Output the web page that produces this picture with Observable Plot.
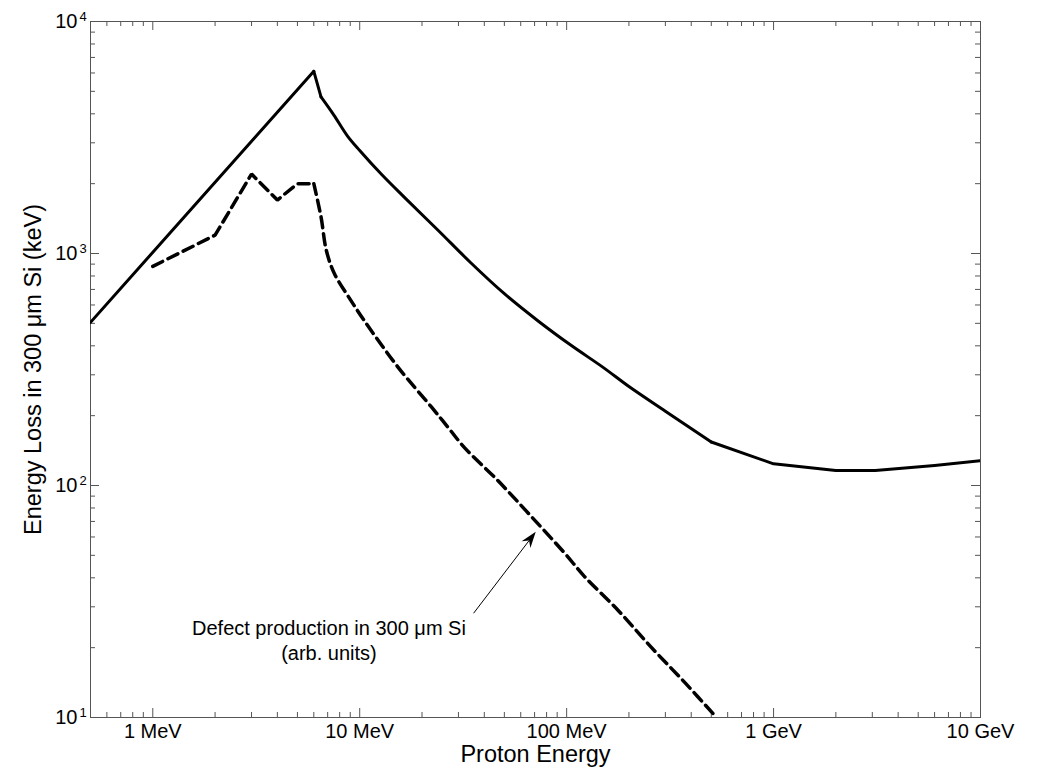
<!DOCTYPE html>
<html>
<head>
<meta charset="utf-8">
<script src="https://cdn.jsdelivr.net/npm/d3@7"></script>
<script src="https://cdn.jsdelivr.net/npm/@observablehq/plot@0.6"></script>
<style>
  html, body { margin: 0; padding: 0; background: #fff; }
  #chart svg { display: block; }
</style>
</head>
<body>
<div id="chart"></div>
<script>
// ---- Data ----
// Energy loss in 300 µm Si (keV) vs proton energy (MeV)
const solidEnergy = [0.5, 6.0, 6.5, 7.5, 8.75, 10, 12.7, 16.4, 23.9, 34.5, 50, 72.8, 105, 150, 200, 300, 500, 1000, 2000, 3100, 6000, 10000];
const solidLoss   = [505, 6100, 4730, 3950, 3200, 2780, 2200, 1750, 1260, 910, 671, 512, 402, 323, 267, 209, 154, 124, 116, 116, 122, 128];

// Defect production in 300 µm Si (arb. units)
const defectEnergy = [1.0, 2.0, 3.0, 4.0, 5.0, 6.0, 6.5, 6.9, 7.55, 9.06, 10.5, 15.3, 22.2, 26.6, 32, 46.5, 67.5, 98, 122, 177, 256, 371, 530];
const defectLoss   = [880, 1200, 2200, 1700, 2000, 2000, 1440, 1030, 818, 628, 515, 324, 218, 179, 146, 105, 73.5, 51, 40.5, 29, 20.1, 14.2, 10];

const xDomain = [0.5, 10000];
const yDomain = [10, 10000];
const xTickValues = [1, 10, 100, 1000, 10000];
const xTickLabels = ["1 MeV", "10 MeV", "100 MeV", "1 GeV", "10 GeV"];
const yTickValues = [10, 100, 1000, 10000];
const yTickBase = "10";
const yTickExponents = ["1", "2", "3", "4"];

const xTitle = "Proton Energy";
const yTitle = "Energy Loss in 300 μm Si (keV)";
const annotationText = "Defect production in 300 μm Si\n(arb. units)";
const annotationAt = [7.1, 21.6];
const arrowFrom = [35.7, 28];
const arrowTo = [71.3, 62.8];

// ---- Layout ----
const W = 1043, H = 782;
const mL = 90, mR = 63, mT = 21, mB = 65;
const pw = W - mL - mR, ph = H - mT - mB;
const axisColor = "#555";
const font = "'Liberation Sans', Arial, Helvetica, sans-serif";

const solid = solidEnergy.map((e, i) => ({e, v: solidLoss[i]}));
const defect = defectEnergy.map((e, i) => ({e, v: defectLoss[i]}));
const within = (data, lo, hi) => data.filter(d => d.e >= lo && d.e <= hi);

const xMinor = d3.scaleLog().domain(xDomain).ticks().filter(t => !xTickValues.includes(t));
const yMinor = d3.scaleLog().domain(yDomain).ticks().filter(t => !yTickValues.includes(t));

function arrowMark(index, scales) {
  const x1 = scales.x(arrowFrom[0]), y1 = scales.y(arrowFrom[1]);
  const x2 = scales.x(arrowTo[0]), y2 = scales.y(arrowTo[1]);
  const a = Math.atan2(y2 - y1, x2 - x1);
  const ux = Math.cos(a), uy = Math.sin(a), px = -uy, py = ux;
  const L = 16, w = 5.5, n = 11;
  const g = d3.create("svg:g");
  g.append("line")
    .attr("x1", x1).attr("y1", y1)
    .attr("x2", x2 - ux * n).attr("y2", y2 - uy * n)
    .attr("stroke", "black").attr("stroke-width", 1);
  g.append("path")
    .attr("d", `M${x2},${y2}L${x2 - ux * L + px * w},${y2 - uy * L + py * w}L${x2 - ux * n},${y2 - uy * n}L${x2 - ux * L - px * w},${y2 - uy * L - py * w}Z`)
    .attr("fill", "black");
  return g.node();
}

const solidStyle = {x: "e", y: "v", stroke: "black", strokeWidth: 3, strokeLinecap: "round", clip: true};
const dashStyle = {x: "e", y: "v", stroke: "black", strokeWidth: 3.5, strokeDasharray: "11,6", clip: true};

const chart = Plot.plot({
  width: W, height: H,
  marginLeft: mL, marginRight: mR, marginTop: mT, marginBottom: mB,
  style: {fontFamily: font, background: "white", color: "black", overflow: "visible"},
  x: {type: "log", domain: xDomain, axis: null},
  y: {type: "log", domain: yDomain, axis: null},
  marks: [
    // inward minor & major ticks on all four sides
    Plot.ruleX(xMinor, {x: d => d, insetTop: ph - 5, stroke: axisColor}),
    Plot.ruleX(xMinor, {x: d => d, insetBottom: ph - 5, stroke: axisColor}),
    Plot.ruleX(xTickValues, {x: d => d, insetTop: ph - 9, stroke: axisColor}),
    Plot.ruleX(xTickValues, {x: d => d, insetBottom: ph - 9, stroke: axisColor}),
    Plot.ruleY(yMinor, {y: d => d, insetRight: pw - 5, stroke: axisColor}),
    Plot.ruleY(yMinor, {y: d => d, insetLeft: pw - 5, stroke: axisColor}),
    Plot.ruleY(yTickValues, {y: d => d, insetRight: pw - 9, stroke: axisColor}),
    Plot.ruleY(yTickValues, {y: d => d, insetLeft: pw - 9, stroke: axisColor}),
    Plot.frame({stroke: axisColor}),
    // solid curve: straight rise, sharp peak, smooth fall, kink near 500 MeV
    Plot.line(within(solid, 0, 6.0), solidStyle),
    Plot.line(within(solid, 6.0, 6.5), solidStyle),
    Plot.line(within(solid, 6.5, 500), {...solidStyle, curve: "catmull-rom"}),
    Plot.line(within(solid, 500, 1e9), solidStyle),
    // dashed curve
    Plot.line(within(defect, 0, 6.0), {...dashStyle, strokeLinejoin: "miter"}),
    Plot.line(within(defect, 6.0, 1e9), {...dashStyle, curve: "catmull-rom"}),
    // tick labels
    Plot.text(xTickValues, {x: d => d, frameAnchor: "bottom", dy: 20, text: (d, i) => xTickLabels[i], fontSize: 20, fill: "black"}),
    Plot.text(yTickValues, {y: d => d, frameAnchor: "left", dx: -13, textAnchor: "end", text: () => yTickBase, fontSize: 20, fill: "black"}),
    Plot.text(yTickValues, {y: d => d, frameAnchor: "left", dx: -11, dy: -5, textAnchor: "start", text: (d, i) => yTickExponents[i], fontSize: 13, fill: "black"}),
    // axis titles
    Plot.text([xTitle], {frameAnchor: "bottom", dy: 44, text: d => d, fontSize: 23.5, fill: "black"}),
    Plot.text([yTitle], {frameAnchor: "left", dx: -57, rotate: -90, textAnchor: "middle", text: d => d, fontSize: 23.5, fill: "black"}),
    // annotation
    Plot.text([annotationText], {x: () => annotationAt[0], y: () => annotationAt[1], text: d => d, fontSize: 20, lineHeight: 1.25, fill: "black"}),
    arrowMark
  ]
});
document.getElementById("chart").appendChild(chart);
</script>
</body>
</html>
